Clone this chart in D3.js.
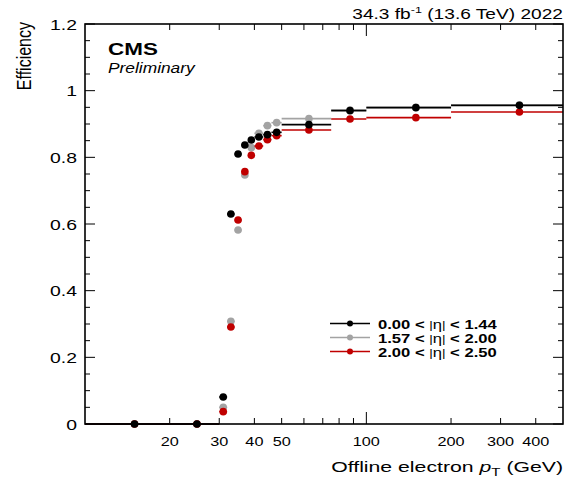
<!DOCTYPE html>
<html><head><meta charset="utf-8">
<script src="https://cdn.jsdelivr.net/npm/d3@7"></script>
<style>
html,body{margin:0;padding:0;background:#fff;}
svg{display:block;font-family:"Liberation Sans",Arial,Helvetica,sans-serif;}
</style></head>
<body>
<svg id="chart" width="565" height="478"></svg>
<script>
// ---- data ----
const binEdges = [10,20,30,32,34,36,38,40,43,46,50,75,100,200,500];
const binCenters = [15,25,31,33,35,37,39,41.5,44.5,48,62.5,87.5,150,350];
const effBarrel = [0,0,0.081,0.630,0.810,0.837,0.852,0.861,0.868,0.875,0.898,0.940,0.949,0.956];
const effEndcap1 = [0,0,0.050,0.308,0.582,0.747,0.829,0.872,0.895,0.904,0.916,0.942,0.950,0.957];
const effEndcap2 = [0,0,0.037,0.291,0.612,0.757,0.806,0.834,0.853,0.865,0.882,0.915,0.919,0.936];
const seriesLabels = [["0.00 < ","η"," < 1.44"],["1.57 < ","η"," < 2.00"],["2.00 < ","η"," < 2.50"]];
const xTickLabels = [20,30,40,50,100,200,300,400];
const xMinorTicks = [20,30,40,50,60,70,80,90,200,300,400];
const xMajorTicks = [100];
const yTickLabels = [0,0.2,0.4,0.6,0.8,1,1.2];

const colors = ["#000000","#a3a3a3","#c00000"];
const series = [effBarrel, effEndcap1, effEndcap2];

const svg = d3.select("#chart");
const L=85, R=563, T=24, B=424;
const x = d3.scaleLog().domain([10,500]).range([L,R]);
const y = d3.scaleLinear().domain([0,1.2]).range([B,T]);
const SX = 1.25; // horizontal stretch of the reference's text

function txt(px, py, anchor, size, sx){
  return svg.append("g").attr("transform",`translate(${px},${py}) scale(${sx},1)`)
    .append("text").attr("text-anchor",anchor).attr("font-size",size);
}

// ticks
const tg = svg.append("g").attr("stroke","#000").attr("stroke-width",1);
d3.range(0,1.2001,0.05).forEach(v=>{
  const isMaj = Math.abs(v/0.2-Math.round(v/0.2))<1e-6;
  const len = isMaj?10:5;
  tg.append("line").attr("x1",L).attr("x2",L+len).attr("y1",y(v)).attr("y2",y(v));
  tg.append("line").attr("x1",R).attr("x2",R-len).attr("y1",y(v)).attr("y2",y(v));
});
xMinorTicks.forEach(v=>{
  tg.append("line").attr("x1",x(v)).attr("x2",x(v)).attr("y1",B).attr("y2",B-6);
  tg.append("line").attr("x1",x(v)).attr("x2",x(v)).attr("y1",T).attr("y2",T+6);
});
xMajorTicks.forEach(v=>{
  tg.append("line").attr("x1",x(v)).attr("x2",x(v)).attr("y1",B).attr("y2",B-12);
  tg.append("line").attr("x1",x(v)).attr("x2",x(v)).attr("y1",T).attr("y2",T+12);
});

// tick labels
yTickLabels.forEach(d=>{ txt(77, y(d)+5.5, "end", 15.5, SX).text(d); });
xTickLabels.forEach(d=>{ txt(x(d), 446, "middle", 13, SX).text(d); });

// data: draw order gray, red, black
[1,2,0].forEach(si=>{
  const g=svg.append("g");
  const vals=series[si];
  g.selectAll("line").data(vals).join("line")
    .attr("x1",(d,i)=>x(binEdges[i])).attr("x2",(d,i)=>x(binEdges[i+1]))
    .attr("y1",d=>y(d)).attr("y2",d=>y(d))
    .attr("stroke",colors[si]).attr("stroke-width",1.6);
  g.selectAll("circle").data(vals).join("circle")
    .attr("cx",(d,i)=>x(binCenters[i])).attr("cy",d=>y(d)).attr("r",3.8)
    .attr("fill",colors[si]);
});

// frame
svg.append("rect").attr("x",L).attr("y",T).attr("width",R-L).attr("height",B-T)
  .attr("fill","none").attr("stroke","#000").attr("stroke-width",1.6);

// texts
txt(108, 55, "start", 16.5, 1.36).attr("font-weight","bold").text("CMS");
txt(108, 73, "start", 14, 1.24).attr("font-style","italic").text("Preliminary");

const hdr=txt(563, 19, "end", 14.5, 1.32);
hdr.append("tspan").text("34.3 fb");
hdr.append("tspan").attr("dy",-6).attr("font-size",9.5).text("-1");
hdr.append("tspan").attr("dy",6).text(" (13.6 TeV) 2022");

svg.append("g").attr("transform",`translate(31,22) scale(1.3,1) rotate(-90)`)
  .append("text").attr("text-anchor","end").attr("font-size",16).text("Efficiency");

const xl=txt(563, 471.5, "end", 15.5, 1.37);
xl.append("tspan").text("Offline electron ");
xl.append("tspan").attr("font-style","italic").text("p");
xl.append("tspan").attr("dy",4).attr("font-size",11).text("T");
xl.append("tspan").attr("dy",-4).text(" (GeV)");

// legend
const legY=[323.5,337.5,351.5];
seriesLabels.forEach((lab,i)=>{
  svg.append("line").attr("x1",330).attr("x2",370).attr("y1",legY[i]).attr("y2",legY[i])
    .attr("stroke",colors[i]).attr("stroke-width",1.5);
  svg.append("circle").attr("cx",350).attr("cy",legY[i]).attr("r",3).attr("fill",colors[i]);
  const t=txt(378, legY[i]+5, "start", 13.5, 1.23).attr("font-weight","bold");
  t.append("tspan").text(lab[0]);
  t.append("tspan").attr("font-weight","normal").attr("font-size",11).text("|");
  t.append("tspan").attr("font-weight","normal").text(lab[1]);
  t.append("tspan").attr("font-weight","normal").attr("font-size",11).text("|");
  t.append("tspan").text(lab[2]);
});
</script>
</body></html>
